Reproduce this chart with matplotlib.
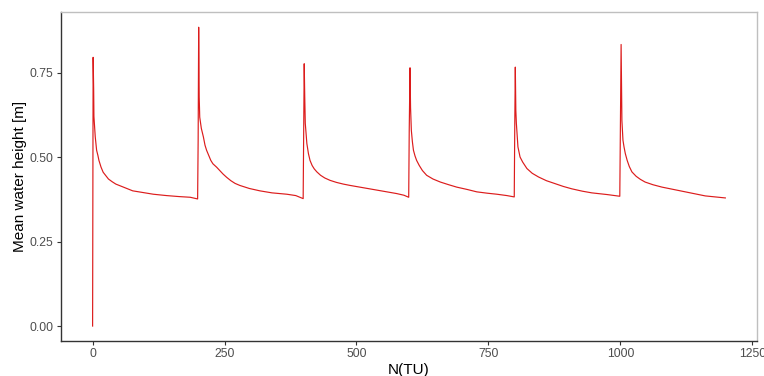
import numpy as np
import matplotlib
matplotlib.use("Agg")
import matplotlib.pyplot as plt

# sampled points of each 200 TU cycle (time, mean water height)
t_c0 = [0, 0.3, 0.6, 1, 2, 2.5, 5, 7.6, 10, 12, 16, 20, 25, 30, 37, 44, 52, 60, 68, 76,
        95, 115, 140, 164, 185, 199]
h_c0 = [0.0, 0.20, 0.40, 0.795, 0.70, 0.62, 0.56, 0.52, 0.505, 0.49, 0.47, 0.455, 0.445,
        0.435, 0.427, 0.42, 0.415, 0.41, 0.405, 0.40, 0.395, 0.39, 0.386, 0.383, 0.381, 0.376]

t_c1 = [200, 201, 202, 203, 206, 210, 213, 216, 220, 224, 228, 235, 241, 247, 254, 262,
        270, 279, 297, 317, 340, 368, 385, 399]
h_c1 = [0.55, 0.884, 0.677, 0.618, 0.585, 0.559, 0.535, 0.52, 0.505, 0.49, 0.48, 0.47,
        0.46, 0.45, 0.44, 0.43, 0.422, 0.416, 0.407, 0.40, 0.394, 0.39, 0.386, 0.377]

t_c2 = [400, 401, 402, 403, 406, 409, 412, 416, 420, 425, 432, 440, 450, 462, 475, 488,
        510, 532, 555, 576, 590, 599]
h_c2 = [0.56, 0.776, 0.677, 0.60, 0.54, 0.51, 0.49, 0.475, 0.465, 0.456, 0.446, 0.438,
        0.431, 0.425, 0.42, 0.416, 0.41, 0.404, 0.398, 0.392, 0.387, 0.381]

t_c3 = [600, 601.5, 602.5, 604, 606, 608, 611, 614, 619, 625, 633, 645, 659, 675, 690,
        710, 728, 748, 766, 785, 799]
h_c3 = [0.58, 0.764, 0.647, 0.579, 0.545, 0.52, 0.503, 0.49, 0.475, 0.46, 0.446, 0.435,
        0.426, 0.418, 0.411, 0.404, 0.397, 0.393, 0.39, 0.386, 0.382]

t_c4 = [800, 801, 802, 803, 806, 810, 815, 823, 833, 845, 860, 877, 892, 908, 928, 946,
        975, 999]
h_c4 = [0.598, 0.766, 0.638, 0.60, 0.53, 0.50, 0.485, 0.466, 0.452, 0.441, 0.43, 0.421,
        0.413, 0.406, 0.399, 0.394, 0.389, 0.384]

t_c5 = [1000, 1001.5, 1002.5, 1003, 1005, 1007, 1009.5, 1013, 1017, 1022, 1030, 1038,
        1047, 1062, 1079, 1098, 1117, 1140, 1161, 1180, 1199]
h_c5 = [0.55, 0.833, 0.687, 0.608, 0.55, 0.53, 0.51, 0.49, 0.472, 0.456, 0.443, 0.434,
        0.426, 0.418, 0.411, 0.405, 0.399, 0.392, 0.385, 0.382, 0.379]

x_ticks = [0, 250, 500, 750, 1000, 1250]
y_ticks = [0.00, 0.25, 0.50, 0.75]

t = np.concatenate([t_c0, t_c1, t_c2, t_c3, t_c4, t_c5])
h = np.concatenate([h_c0, h_c1, h_c2, h_c3, h_c4, h_c5])

plt.rcParams['font.family'] = ['Liberation Sans', 'DejaVu Sans']

fig = plt.figure(figsize=(7.64, 3.76), dpi=100)
ax = fig.add_axes([0.0798, 0.0931, 0.9110, 0.8742])

ax.plot(t, h, color='#DC1C1C', lw=0.85)

# ggplot-style expansion of 5 %
xpad = 0.05 * (t.max() - t.min())
ypad = 0.05 * (h.max() - h.min())
ax.set_xlim(t.min() - xpad, t.max() + xpad)
ax.set_ylim(h.min() - ypad, h.max() + ypad)

ax.set_xticks(x_ticks)
ax.set_xticklabels([str(v) for v in x_ticks])
ax.set_yticks(y_ticks)
ax.set_yticklabels(["%.2f" % v for v in y_ticks])

ax.tick_params(axis='both', colors='#333333', labelcolor='#4D4D4D', labelsize=8.8,
               length=3, width=0.8, pad=2.2)

for side in ['left', 'bottom']:
    ax.spines[side].set_color('#333333')
    ax.spines[side].set_linewidth(1.0)
for side in ['top', 'right']:
    ax.spines[side].set_color('#BFBFBF')
    ax.spines[side].set_linewidth(1.0)

ax.set_xlabel("N(TU)", fontsize=11, labelpad=2)
ax.set_ylabel("Mean water height [m]", fontsize=11, labelpad=2)

fig.savefig("out.png", dpi=100)
